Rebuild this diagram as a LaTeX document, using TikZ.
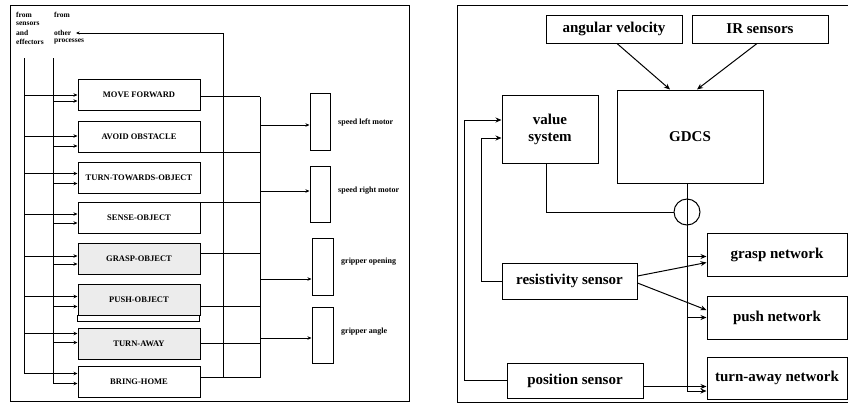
\documentclass[tikz,border=0pt]{standalone}
\usepackage{fontspec}
\setmainfont{Liberation Serif}
\usetikzlibrary{arrows.meta,calc}
\begin{document}
\begin{tikzpicture}[x=1pt,y=-1pt,
 box/.style={draw,line width=1pt,inner sep=0pt,rectangle},
 beh/.style={box,minimum width=122pt,minimum height=31pt,font=\fontsize{8.5}{9}\selectfont\bfseries},
 shaded/.style={fill=gray!15},
 mot/.style={box,minimum width=20pt,minimum height=57pt},
 small/.style={font=\fontsize{7.5}{8}\selectfont\bfseries,inner sep=0pt,anchor=west},
 lbl/.style={font=\fontsize{8}{9}\selectfont\bfseries,inner sep=0pt,anchor=west},
 big/.style={box,font=\fontsize{15}{17}\selectfont\bfseries,align=center},
 ln/.style={line width=1pt},
 arr/.style={ln,-{Stealth[length=4pt,width=3.5pt]}},
 barr/.style={line width=1pt,-{Stealth[length=6pt,width=5pt]}},
]
\useasboundingbox (0,0) rectangle (848,408);
% ---------------- left panel ----------------
\draw[line width=1pt] (10,5) rectangle (409,401);
\node[small] (ta) at (16,15) {from};
\node[small] (tb) at (16,24) {sensors};
\node[small] (tc) at (16,33) {and};
\node[small] (td) at (16,42) {effectors};
\node[small] (te) at (54,15) {from};
\node[small] (tf) at (54,33) {other};
\node[small] (tg) at (54,42) {processes};

\node[beh] (MF) at (139,95) {MOVE FORWARD};
\node[beh] (AO) at (139,137) {AVOID OBSTACLE};
\node[beh] (TTO) at (139,177.5) {TURN-TOWARDS-OBJECT};
\node[beh] (SO) at (139,218) {SENSE-OBJECT};
\node[beh,shaded] (GO) at (139,259) {GRASP-OBJECT};
\node[beh,shaded] (PO) at (139,299.5) {PUSH-OBJECT};
\draw[line width=0.8pt] (PO.south west) rectangle ++(122,6);
\node[beh,shaded] (TA) at (139,343.5) {TURN-AWAY};
\node[beh] (BH) at (139,381.5) {BRING-HOME};

\coordinate (b1t) at (24,58);
\coordinate (b1b) at (24,374);
\coordinate (b2t) at (53,58);
\coordinate (b2b) at (53,384);
\draw[ln] (b1t) -- (b1b);
\draw[ln] (b2t) -- (b2b);
\foreach \n/\a/\b in {MF/16/22, AO/15/25, TTO/12/22, SO/12/21, GO/13/21, PO/13/23, TA/6/15, BH/8/18} {
  \draw[arr] ([yshift=-\a pt]\n.north west -| b1t) -- ([yshift=-\a pt]\n.north west);
  \draw[arr] ([yshift=-\b pt]\n.north west -| b2t) -- ([yshift=-\b pt]\n.north west);
}

\coordinate (m1t) at (223,33);
\coordinate (m1b) at (223,378);
\coordinate (r1t) at (260,97);
\coordinate (r1b) at (260,378);
\coordinate (fb) at (76,33);
\draw[ln] (m1t) -- (m1b);
\draw[ln] (r1t) -- (r1b);
\draw[line width=0.6pt,-{Stealth[length=3.5pt,width=3pt]}] (m1t) -- (fb);
\foreach \n/\a in {MF/17, AO/31, SO/0, GO/10, PO/23, TA/16, BH/12} {
  \draw[ln] ([yshift=-\a pt]\n.north east) -- ([yshift=-\a pt]\n.north east -| r1t);
}

\node[mot] (M1) at (320,121.5) {};
\node[mot,minimum height=56pt] (M2) at (320,194) {};
\node[mot,minimum width=21pt] (M3) at (322.5,266.5) {};
\node[mot,minimum width=21pt,minimum height=56pt] (M4) at (322.5,335) {};
\draw[arr] ([yshift=-3.5pt]M1.west -| r1t) -- ([yshift=-3.5pt]M1.west);
\draw[arr] ([yshift=3pt]M2.west -| r1t) -- ([yshift=3pt]M2.west);
\draw[arr] ([yshift=-12.5pt]M3.west -| r1t) -- ([yshift=-12.5pt]M3.west);
\draw[arr] ([yshift=-3pt]M4.west -| r1t) -- ([yshift=-3pt]M4.west);
\node[lbl] (L1) at (338,123) {speed left motor};
\node[lbl] (L2) at (338,191) {speed right motor};
\node[lbl] (L3) at (341,262) {gripper opening};
\node[lbl] (L4) at (341,332) {gripper angle};

% ---------------- right panel ----------------
\draw[line width=1pt] (848,5) -- (457,5) -- (457,402) -- (848,402);
\node[big,minimum width=136pt,minimum height=28pt] (AV) at (614,29) {angular velocity};
\node[big,minimum width=136pt,minimum height=28pt] (IR) at (760,29) {IR sensors};
\node[big,minimum width=146pt,minimum height=93pt] (GD) at (690,136.5) {GDCS};
\node[big,minimum width=96pt,minimum height=68pt] (VS) at (550,129) {value\\system};
\node[big,minimum width=135pt,minimum height=36pt] (RS) at (569.5,281) {resistivity sensor};
\node[big,minimum width=136pt,minimum height=35pt] (PS) at (575,380.5) {position sensor};
\node[big,minimum width=140pt,minimum height=43pt] (GN) at (777,254.5) {grasp network};
\node[big,minimum width=140pt,minimum height=43pt] (PN) at (777,317.5) {push network};
\node[big,minimum width=140pt,minimum height=42pt] (TN) at (777,378) {turn-away network};
\node[draw,line width=1pt,circle,minimum size=26pt,inner sep=0pt] (C) at (687,212) {};

\draw[barr] ([xshift=3pt]AV.south) -- ([xshift=-20pt]GD.north);
\draw[barr] ([xshift=-3pt]IR.south) -- ([xshift=7pt]GD.north);
\coordinate (bt) at ([xshift=-3pt]GD.south);
\draw[barr] (bt) |- ([yshift=-13pt]TN.west);
\draw[barr] ([yshift=-2pt]GN.west -| bt) -- ([yshift=-2pt]GN.west);
\draw[barr] (PN.west -| bt) -- (PN.west);
\draw[ln] ([xshift=-4pt]VS.south) |- (C.west);
\draw[barr] (PS.west) -- ++(-42,0) |- ([yshift=9pt]VS.west);
\draw[barr] (RS.west) -- ++(-20,0) |- ([yshift=-9pt]VS.west);
\draw[barr] ([yshift=5pt]RS.east) -- ([yshift=-8pt]GN.west);
\draw[barr] ([yshift=-2pt]RS.east) -- ([yshift=7.5pt]PN.west);
\draw[barr] ([yshift=-6pt]PS.east) -- ([yshift=-6pt]PS.east -| TN.west);
\end{tikzpicture}
\end{document}
